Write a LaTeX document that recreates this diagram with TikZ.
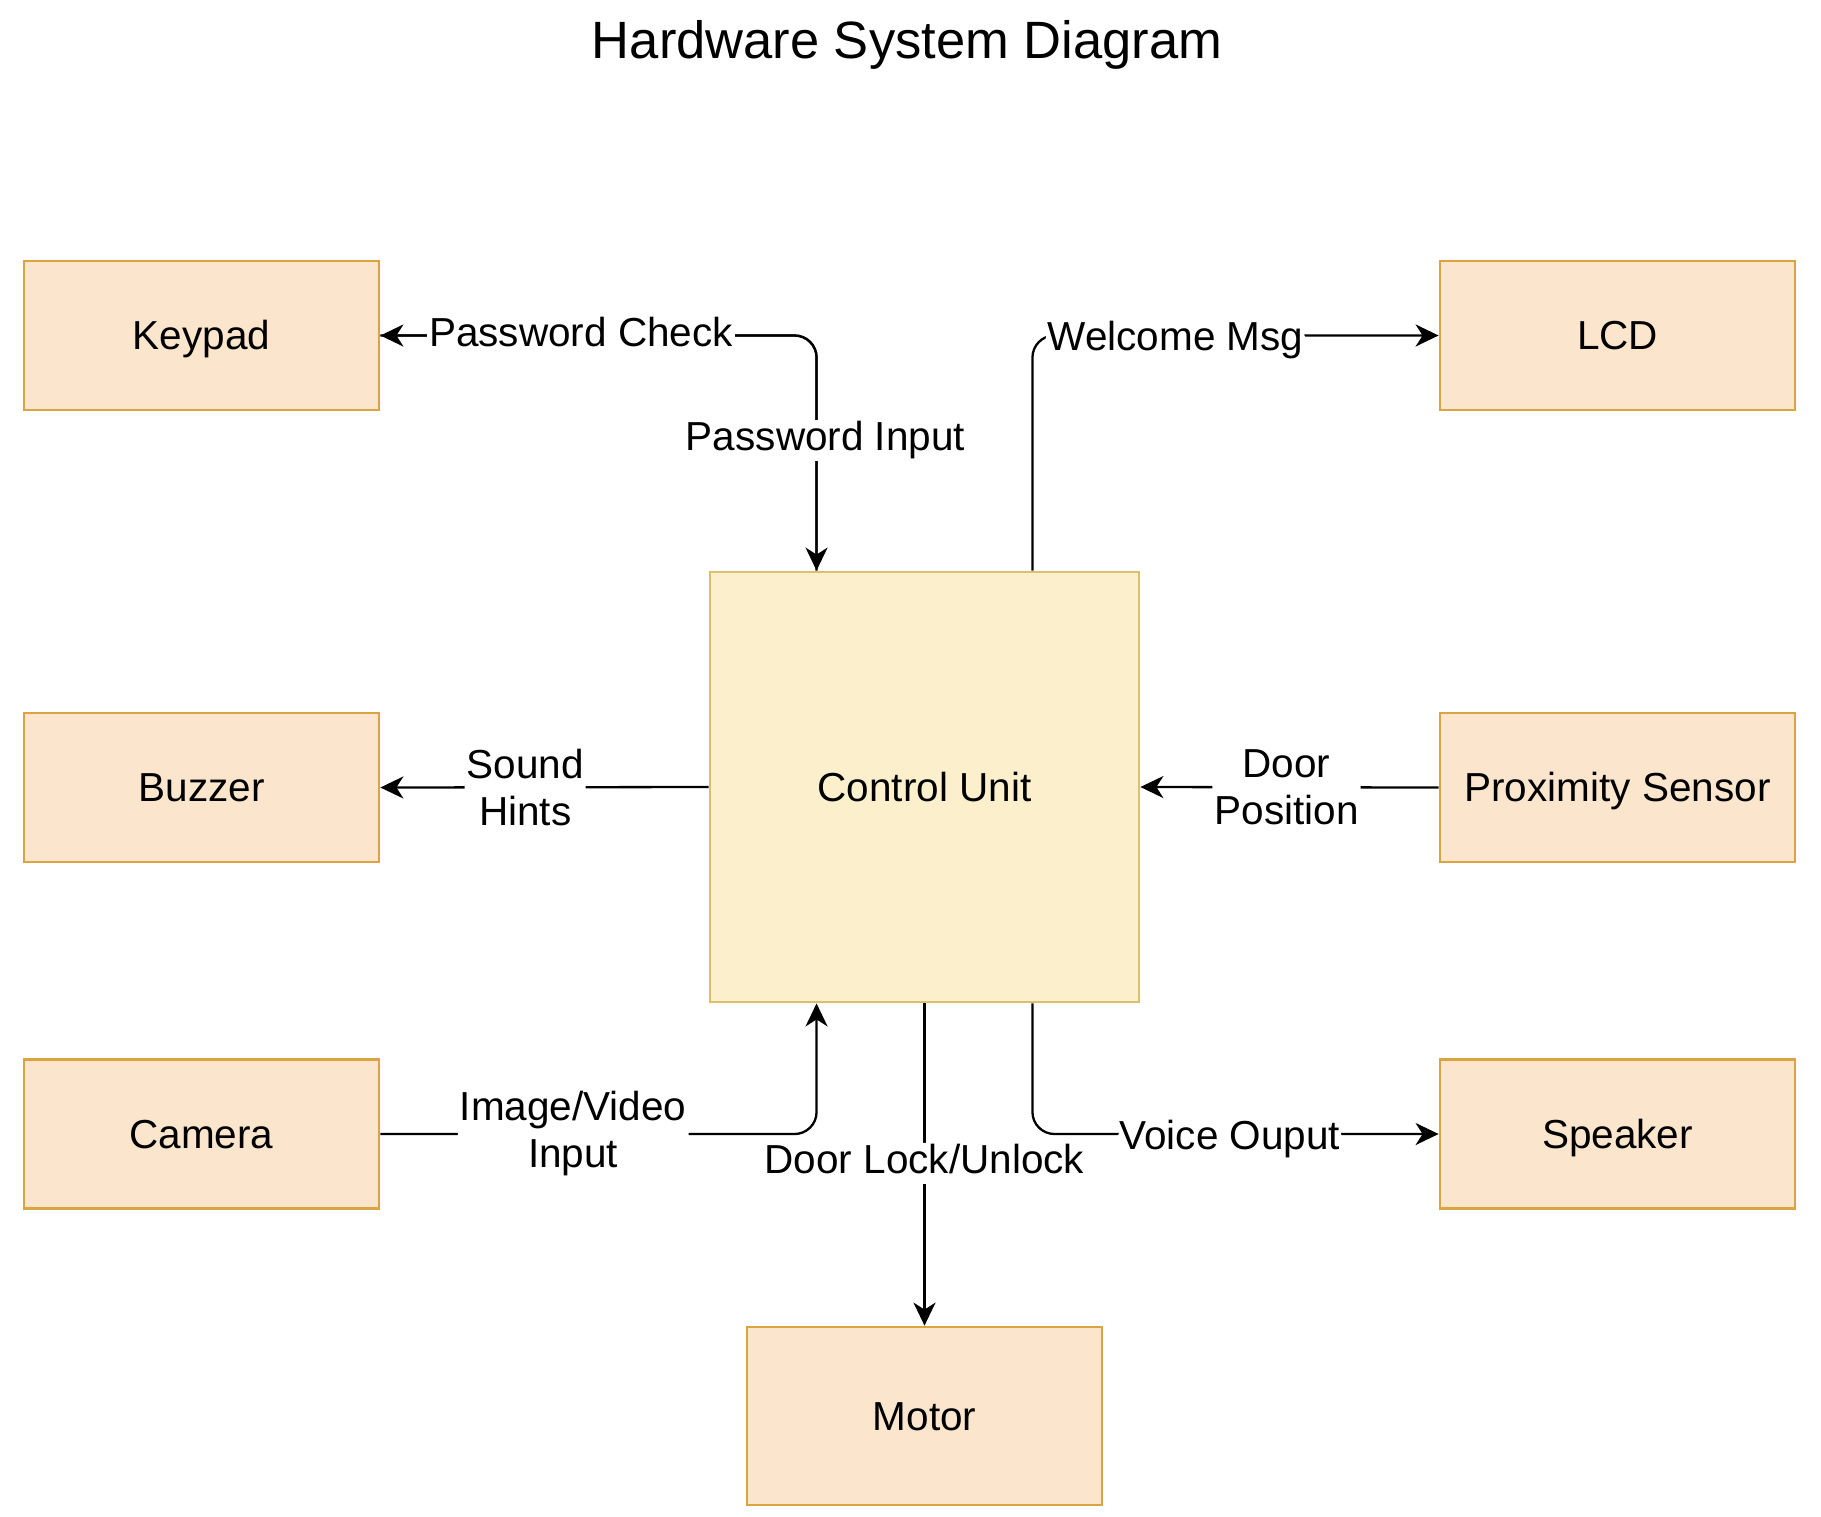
\documentclass[tikz,border=0pt]{standalone}
\usepackage{fontspec}
\setmainfont{Liberation Sans}
\usetikzlibrary{arrows.meta,calc}
\definecolor{orfill}{HTML}{FBE6CD}
\definecolor{ordraw}{HTML}{D9A441}
\definecolor{cufill}{HTML}{FCF0CC}
\definecolor{cudraw}{HTML}{DCC070}
\begin{document}
\begin{tikzpicture}[x=1pt,y=-1pt,
  txt/.style={font=\fontsize{40.5}{47}\selectfont},
  oneline/.style={text height=29pt,text depth=8pt},
  boxline/.style={text height=33pt,text depth=5pt},
  devbox/.style={txt,boxline,draw=ordraw,fill=orfill,line width=2.8pt,minimum width=355pt,minimum height=149pt,inner sep=0pt},
  cubox/.style={txt,boxline,draw=cudraw,fill=cufill,line width=2.8pt,minimum width=429pt,minimum height=430pt,inner sep=0pt},
  lbl/.style={txt,fill=white,inner sep=2pt,align=center},
  lbl1/.style={lbl,oneline},
  arr/.style={line width=2.3pt,-{Stealth[length=23pt,width=22pt,inset=7pt]},rounded corners=22pt}]
\useasboundingbox (0,0) rectangle (1821,1516);
\node[font=\fontsize{52.5}{60}\selectfont,anchor=base] (title) at (907,58) {Hardware System Diagram};
\node[devbox] (keypad) at (201.5,335.5) {Keypad};
\node[devbox] (lcd) at (1617.5,335.5) {LCD};
\node[devbox] (buzzer) at (201.5,787.5) {Buzzer};
\node[devbox] (prox) at (1617.5,787.5) {Proximity Sensor};
\node[devbox] (camera) at (201.5,1134) {Camera};
\node[devbox] (speaker) at (1617.5,1134) {Speaker};
\node[cubox] (cu) at (924.5,787) {Control Unit};
\node[devbox,minimum height=178pt] (motor) at (924.5,1416) {Motor};
\coordinate (cuNa) at ($(cu.north west)!0.25!(cu.north east)$);
\coordinate (cuNb) at ($(cu.north west)!0.75!(cu.north east)$);
\coordinate (cuSa) at ($(cu.south west)!0.25!(cu.south east)$);
\coordinate (cuSb) at ($(cu.south west)!0.75!(cu.south east)$);
% Password check / input (shared route; labels placed after both lines)
\draw[arr] (cuNa) |- (keypad.east);
\draw[arr] (keypad.east) -| (cuNa);
\path (cuNa) |- (keypad.east) node[lbl1,pos=0.77] {Password Check};
\path (keypad.east) -| (cuNa) node[lbl1,pos=0.723,xshift=9pt] {Password Input};
% Welcome
\draw[arr] (cuNb) |- (lcd.west) node[lbl1,pos=0.676,yshift=-4pt] {Welcome Msg};
% Sound hints
\draw[arr] (cu.west) -- (buzzer.east) node[lbl,pos=0.559] {Sound\\Hints};
% Door position
\draw[arr] (prox.west) -- (cu.east) node[lbl,pos=0.51] {Door\\Position};
% Camera
\draw[arr] (camera.east) -| (cuSa) node[lbl,pos=0.221] {Image/Video\\Input};
% Motor
\draw[arr] (cu.south) -- (motor.north) node[lbl1,pos=0.49,yshift=-2pt] {Door Lock/Unlock};
% Speaker
\draw[arr] (cuSb) |- (speaker.west) node[lbl1,pos=0.743,yshift=-5pt] {Voice Ouput};
\end{tikzpicture}
\end{document}
